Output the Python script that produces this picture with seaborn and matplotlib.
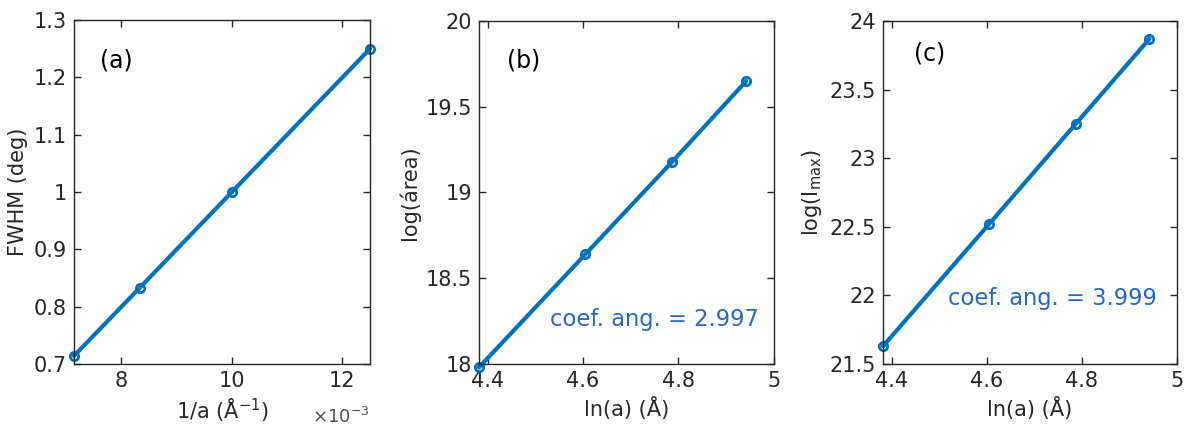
import matplotlib
matplotlib.use("Agg")
import matplotlib.pyplot as plt
import seaborn as sns
import numpy as np
from matplotlib.ticker import FuncFormatter, MultipleLocator

# ---- data ----
inv_a = [0.0125, 0.0100, 0.008333, 0.007143]        # 1/a (Å^-1)
fwhm = [1.25, 1.00, 0.833, 0.714]                    # FWHM (deg)
ln_a = [4.382, 4.605, 4.787, 4.942]                  # ln(a)
log_area = [17.98, 18.64, 19.18, 19.65]              # log(área)
log_imax = [21.63, 22.52, 23.25, 23.87]              # log(I_max)
slope_b = "coef. ang. = 2.997"
slope_c = "coef. ang. = 3.999"
panel_labels = ["(a)", "(b)", "(c)"]

sns.set_theme(style="ticks")
plt.rcParams['font.family'] = ['DejaVu Sans']
plt.rcParams['mathtext.fontset'] = 'dejavusans'

LINE = "#0072BD"
DARK = "#262626"
FS = 15

fig = plt.figure(figsize=(11.87, 4.32), dpi=100)
ax_a = fig.add_axes([0.0623, 0.1574, 0.2494, 0.796])
ax_b = fig.add_axes([0.4035, 0.1574, 0.2485, 0.794])
ax_c = fig.add_axes([0.7439, 0.1574, 0.2477, 0.794])

def style(ax):
    ax.tick_params(direction="in", top=True, right=True, length=5, width=1,
                   colors=DARK, labelsize=FS, pad=5)
    for s in ax.spines.values():
        s.set_color(DARK)
        s.set_linewidth(1.0)
        s.set_visible(True)
    ax.yaxis.set_major_formatter(FuncFormatter(lambda v, p: f"{v:g}"))

def draw(ax, x, y):
    sns.lineplot(x=x, y=y, ax=ax, sort=False, color=LINE, linewidth=3,
                 marker="o", markersize=6, markerfacecolor="none",
                 markeredgecolor=LINE, markeredgewidth=2, clip_on=False)

# (a)
draw(ax_a, inv_a, fwhm)
ax_a.set_xlim(1/140, 1/80)
ax_a.set_ylim(0.7, 1.3)
ax_a.xaxis.set_major_locator(MultipleLocator(0.002))
ax_a.yaxis.set_major_locator(MultipleLocator(0.1))
style(ax_a)
ax_a.xaxis.set_major_formatter(FuncFormatter(lambda v, p: f"{v*1e3:g}"))
ax_a.set_xlabel("1/a (Å$^{-1}$)", fontsize=FS, color=DARK, labelpad=4)
ax_a.set_ylabel("FWHM (deg)", fontsize=FS, color=DARK, labelpad=4)
ax_a.text(1.0, -0.125, r"$\times$10$^{-3}$", transform=ax_a.transAxes,
          ha="right", va="top", fontsize=13, color="#505050")
ax_a.text(0.088, 0.884, panel_labels[0], transform=ax_a.transAxes,
          ha="left", va="center", fontsize=17, color="black")

# (b)
draw(ax_b, ln_a, log_area)
ax_b.set_xlim(4.382, 5.0)
ax_b.set_ylim(18, 20)
ax_b.xaxis.set_major_locator(MultipleLocator(0.2))
ax_b.yaxis.set_major_locator(MultipleLocator(0.5))
style(ax_b)
ax_b.xaxis.set_major_formatter(FuncFormatter(lambda v, p: f"{v:g}"))
ax_b.set_xlabel("ln(a) (Å)", fontsize=FS, color=DARK, labelpad=4)
ax_b.set_ylabel("log(área)", fontsize=FS, color=DARK, labelpad=4)
ax_b.text(0.095, 0.885, panel_labels[1], transform=ax_b.transAxes,
          ha="left", va="center", fontsize=17, color="black")
ax_b.text(0.24, 0.13, slope_b, transform=ax_b.transAxes,
          ha="left", va="center", fontsize=16.3, color="#2566C4")

# (c)
draw(ax_c, ln_a, log_imax)
ax_c.set_xlim(4.382, 5.0)
ax_c.set_ylim(21.5, 24)
ax_c.xaxis.set_major_locator(MultipleLocator(0.2))
ax_c.yaxis.set_major_locator(MultipleLocator(0.5))
style(ax_c)
ax_c.xaxis.set_major_formatter(FuncFormatter(lambda v, p: f"{v:g}"))
ax_c.set_xlabel("ln(a) (Å)", fontsize=FS, color=DARK, labelpad=4)
ax_c.set_ylabel(r"log(I$_{\mathrm{max}}$)", fontsize=FS, color=DARK, labelpad=4)
ax_c.text(0.105, 0.906, panel_labels[2], transform=ax_c.transAxes,
          ha="left", va="center", fontsize=17, color="black")
ax_c.text(0.22, 0.19, slope_c, transform=ax_c.transAxes,
          ha="left", va="center", fontsize=16.3, color="#2566C4")

fig.savefig("out.png", dpi=100)
